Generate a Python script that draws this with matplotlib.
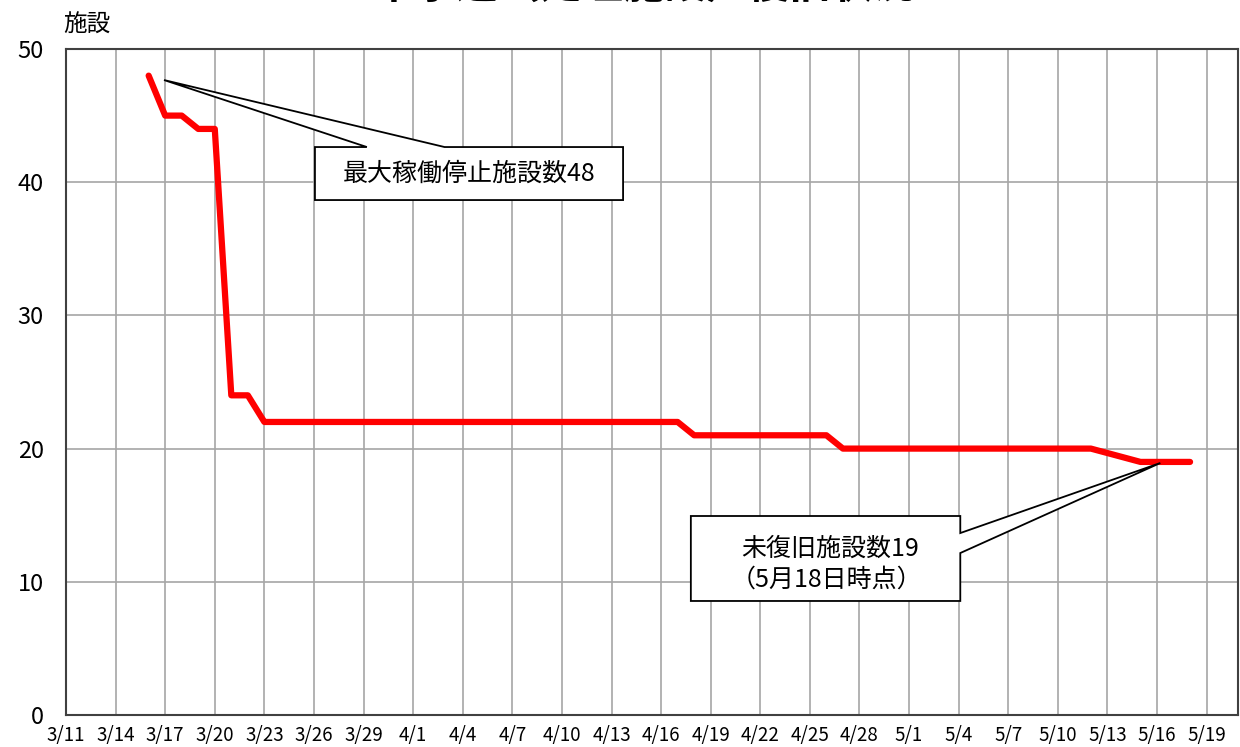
import datetime as dt
import matplotlib.pyplot as plt
from matplotlib.patches import Polygon

plt.rcParams['font.family'] = ['Noto Sans CJK JP', 'DejaVu Sans']

# data: facilities stopped, by date (2011)
dates = ['3/16', '3/17', '3/18', '3/19', '3/20', '3/21', '3/22', '3/23',
         '4/17', '4/18', '4/26', '4/27', '5/12', '5/15', '5/16', '5/18']
values = [48, 45, 45, 44, 44, 24, 24, 22,
          22, 21, 21, 20, 20, 19, 19, 19]
tick_labels = ['3/11', '3/14', '3/17', '3/20', '3/23', '3/26', '3/29', '4/1',
               '4/4', '4/7', '4/10', '4/13', '4/16', '4/19', '4/22', '4/25',
               '4/28', '5/1', '5/4', '5/7', '5/10', '5/13', '5/16', '5/19']

start = dt.date(2011, 3, 11)


def day(s):
    m, d = s.split('/')
    return (dt.date(2011, int(m), int(d)) - start).days


x = [day(s) for s in dates]
ticks = [day(s) for s in tick_labels]

fig = plt.figure(figsize=(12.4, 7.47), dpi=100)
ax = fig.add_axes([66 / 1240, 32 / 747, 1172 / 1240, 666 / 747])

ax.plot(x, values, color='#ff0000', lw=4.5, solid_capstyle='round', solid_joinstyle='round', zorder=3)

ax.set_xlim(0, 70.9)
ax.set_ylim(0, 50)
ax.set_xticks(ticks)
ax.set_xticklabels(tick_labels, fontsize=13.5, family=['Liberation Sans Narrow', 'Noto Sans CJK JP'])
ax.set_yticks(range(0, 51, 10))
ax.tick_params(axis='y', length=0, pad=16, labelsize=17)
ax.tick_params(axis='x', length=0, pad=7)
ax.grid(True, color='#a6a6a6', lw=1.2)
ax.set_axisbelow(True)
for s in ax.spines.values():
    s.set_color('#404040')
    s.set_linewidth(1.5)

# callout 1
c1 = [(15.06, 38.66), (15.06, 42.64), (18.2, 42.64), (5.93, 47.67),
      (22.9, 42.64), (33.7, 42.64), (33.7, 38.66)]
ax.add_patch(Polygon(c1, closed=True, facecolor='white', edgecolor='black', lw=1.3, zorder=4))
ax.text(24.4, 40.6, '最大稼働停止施設数48', fontsize=18, ha='center', va='center', zorder=5)

# callout 2
c2 = [(37.8, 8.56), (37.8, 14.94), (54.1, 14.94), (54.1, 13.66), (66.2, 18.92),
      (54.1, 12.16), (54.1, 8.56)]
ax.add_patch(Polygon(c2, closed=True, facecolor='white', edgecolor='black', lw=1.3, zorder=4))
ax.text(46.2, 12.45, '未復旧施設数19', fontsize=18, ha='center', va='center', zorder=5)
ax.text(46.0, 10.2, '（5月18日時点）', fontsize=18, ha='center', va='center', zorder=5)

fig.text(0.52, 1.018, '下水道（処理施設）復旧状況', fontsize=30, fontweight='bold',
         ha='center', va='center')
fig.text(63 / 1240, 1 - 25 / 747, '施設', fontsize=17, ha='left', va='center')

fig.savefig('out.png', dpi=100)
